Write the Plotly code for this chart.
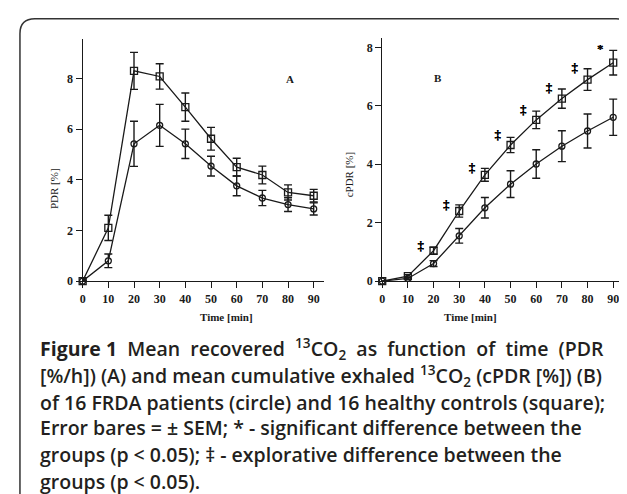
import plotly.graph_objects as go

time_min = [0, 10, 20, 30, 40, 50, 60, 70, 80, 90]

# Panel A: PDR [%]
pdr_controls = [0, 2.10, 8.30, 8.08, 6.87, 5.62, 4.50, 4.19, 3.50, 3.37]
pdr_controls_sem = [0, 0.50, 0.73, 0.50, 0.56, 0.45, 0.35, 0.35, 0.30, 0.25]
pdr_frda = [0, 0.80, 5.42, 6.15, 5.42, 4.54, 3.76, 3.28, 3.02, 2.85]
pdr_frda_sem = [0, 0.27, 0.89, 0.83, 0.58, 0.39, 0.39, 0.30, 0.27, 0.24]

# Panel B: cPDR [%]
cpdr_controls = [0, 0.17, 1.04, 2.40, 3.64, 4.66, 5.52, 6.25, 6.90, 7.48]
cpdr_controls_sem = [0, 0.05, 0.12, 0.21, 0.22, 0.26, 0.30, 0.33, 0.37, 0.42]
cpdr_frda = [0, 0.09, 0.60, 1.55, 2.51, 3.32, 4.01, 4.62, 5.14, 5.61]
cpdr_frda_sem = [0, 0.03, 0.10, 0.25, 0.35, 0.46, 0.49, 0.53, 0.58, 0.62]

# significance markers (panel B)
sig_x = [15, 25, 35, 45, 55, 65, 75, 85]
sig_y = [1.16, 2.59, 3.86, 4.96, 5.84, 6.58, 7.26, 7.91]
sig_text = ["‡"] * 7 + ["*"]

x_ticks = [0, 10, 20, 30, 40, 50, 60, 70, 80, 90]
y_ticks = [0, 2, 4, 6, 8]

S = "&nbsp;"
caption_lines = [
    "<b>Figure" + S + "1</b>" + S + " Mean" + S + " recovered" + S + " <sup>13</sup>CO<sub>2</sub>" + S
    + " as" + S + " function" + S + " of" + S + " time" + S + " (PDR",
    "[%/h]) (A) and mean cumulative exhaled <sup>13</sup>CO<sub>2</sub> (cPDR [%]) (B)",
    "of 16 FRDA patients (circle) and 16 healthy controls (square);",
    "Error bares = ± SEM; * - significant difference between the",
    "groups (p &lt; 0.05); &#8225; - explorative difference between the",
    "groups (p &lt; 0.05).",
]

W, H = 627, 494
BLACK = "#1a1a1a"


def px(x):
    return x / W


def py(y):
    return 1 - y / H


fig = go.Figure()


def add_series(xa, ya, y, err, symbol, size):
    fig.add_trace(go.Scatter(
        x=time_min, y=y, xaxis=xa, yaxis=ya, mode="lines+markers",
        line=dict(color=BLACK, width=1.3),
        marker=dict(symbol=symbol, size=size, color=BLACK,
                    line=dict(color=BLACK, width=1.3)),
        error_y=dict(type="data", array=err, visible=True, color=BLACK,
                     thickness=1.4, width=4),
        showlegend=False, cliponaxis=False,
    ))


add_series("x", "y", pdr_controls, pdr_controls_sem, "square-open", 7)
add_series("x", "y", pdr_frda, pdr_frda_sem, "circle-open", 6)
add_series("x2", "y2", cpdr_controls, cpdr_controls_sem, "square-open", 7)
add_series("x2", "y2", cpdr_frda, cpdr_frda_sem, "circle-open", 6)

# significance markers as a text trace
fig.add_trace(go.Scatter(
    x=sig_x, y=sig_y, xaxis="x2", yaxis="y2", mode="text", text=sig_text,
    textposition="middle center",
    textfont=dict(family="Liberation Serif", size=13, color="#000000", weight="bold",
                  shadow="0px 0px 0.6px #000000"),
    showlegend=False, hoverinfo="skip", cliponaxis=False,
))

tickfont = dict(family="Liberation Serif", size=12, color=BLACK, weight="bold")
axis_common = dict(showgrid=False, zeroline=False, showline=True,
                   linecolor=BLACK, linewidth=1.3, ticks="outside",
                   ticklen=6, tickwidth=1.1, tickcolor=BLACK, tickfont=tickfont)

fig.update_layout(
    width=W, height=H, margin=dict(l=0, r=0, t=0, b=0),
    paper_bgcolor="white", plot_bgcolor="white",
    xaxis=dict(domain=[px(72), px(315)], range=[0, 94.2], anchor="y",
               tickvals=x_ticks, **axis_common),
    yaxis=dict(domain=[py(277), py(31.7)], range=[0, 9.55], anchor="x",
               tickvals=y_ticks, **axis_common),
    xaxis2=dict(domain=[px(373), px(618)], range=[0, 95], anchor="y2",
                tickvals=x_ticks, **axis_common),
    yaxis2=dict(domain=[py(277), py(30)], range=[0, 8.34], anchor="x2",
                tickvals=y_ticks, **axis_common),
)

ann = []
serif = dict(family="Liberation Serif", size=11, color=BLACK)
# axis titles
ann.append(dict(text="<b>Time [min]</b>", x=px(188), y=py(313), xref="paper", yref="paper",
                showarrow=False, font=serif))
ann.append(dict(text="<b>Time [min]</b>", x=px(490), y=py(313), xref="paper", yref="paper",
                showarrow=False, font=serif))
ann.append(dict(text="PDR [%]", x=px(35), y=py(160), xref="paper", yref="paper",
                showarrow=False, textangle=-90, font=serif))
ann.append(dict(text="cPDR [%]", x=px(340), y=py(143), xref="paper", yref="paper",
                showarrow=False, textangle=-90, font=serif))
# panel letters
ann.append(dict(text="<b>A</b>", x=80.6, y=8.0, xref="x", yref="y", showarrow=False, font=serif))
ann.append(dict(text="<b>B</b>", x=21.7, y=6.95, xref="x2", yref="y2", showarrow=False, font=serif))
# caption
caption_y = [345, 373, 400, 426, 453, 480]
for line, cy in zip(caption_lines, caption_y):
    ann.append(dict(text=line, x=px(27), y=py(cy), xref="paper", yref="paper",
                    xanchor="left", yanchor="middle", showarrow=False,
                    font=dict(family="Open Sans", size=19.5, color="#231f20", weight=600)))
fig.update_layout(annotations=ann)

# rounded frame (left side, top, top-right corner)
r = 15
path = (f"M {px(9)},{py(494)} L {px(9)},{py(11 + r)} "
        f"Q {px(9)},{py(11)} {px(9 + r)},{py(11)} "
        f"L {px(623 - r)},{py(11)} "
        f"Q {px(623)},{py(11)} {px(623)},{py(11 + r)} "
        f"L {px(623)},{py(34)}")
fig.add_shape(type="path", path=path, xref="paper", yref="paper",
              line=dict(color="#333333", width=1.5))

fig.write_html("out.html")
